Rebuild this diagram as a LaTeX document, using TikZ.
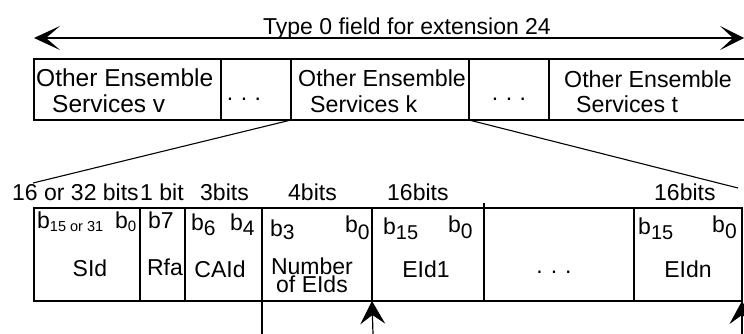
\documentclass[tikz,border=0pt]{standalone}
\usepackage{fontspec}
\setmainfont{Liberation Sans}
\usetikzlibrary{arrows.meta}
\newcommand{\bsub}[3][19]{\raisebox{-#2pt}{\fontsize{#1}{#1}\selectfont #3}}
\begin{document}
\begin{tikzpicture}[x=1pt, y=-1pt,
  font=\fontsize{23}{26}\selectfont,
  cell/.style={draw, line width=2.2pt, inner sep=0pt, outer sep=0pt, anchor=north west},
  txt/.style={inner sep=0pt, anchor=base west},
  ctxt/.style={inner sep=0pt, anchor=base},
  big/.style={font=\fontsize{24.5}{28}\selectfont},
  mid/.style={font=\fontsize{23.2}{28}\selectfont},
  thinline/.style={line width=1.1pt},
  thickline/.style={line width=2.2pt},
  uparrow/.style={line width=1.2pt, -{Stealth[length=23pt, width=25pt, inset=9pt]}},
  toparrow/.style={line width=2pt, {Stealth[length=26pt, width=24pt, inset=14pt]}-{Stealth[length=24pt, width=24pt, inset=13pt]}}]
\useasboundingbox (0,0) rectangle (744,334);

% top arrow
\coordinate (tl) at (34,38);
\coordinate (tr) at (744,38);
\draw[toparrow] (tl) -- (tr);
\node[ctxt] (title) at (407,35) {Type 0 field for extension 24};

% top cells
\node[cell, minimum width=187pt, minimum height=61pt] (v) at (34,59) {};
\node[cell, minimum width=70pt, minimum height=61pt] (d1) at (221,59) {};
\node[cell, minimum width=178pt, minimum height=61pt] (k) at (291,59) {};
\node[cell, minimum width=80pt, minimum height=61pt] (d2) at (469,59) {};
\node[cell, minimum width=199pt, minimum height=61pt] (t) at (549,59) {};

\node[txt, big] (v1) at (36,87) {Other Ensemble};
\node[txt, big] (v2) at (52,113) {Services v};
\node[txt, mid] (k1) at (298,87) {Other Ensemble};
\node[txt, mid] (k2) at (310,113) {Services k};
\node[txt, mid] (t1) at (564,88) {Other Ensemble};
\node[txt, mid] (t2) at (576,113) {Services t};
\node[ctxt] (dots1) at (244,101) {.\hspace{7.5pt}.\hspace{7.5pt}.};
\node[ctxt] (dots2) at (509,101) {.\hspace{7.5pt}.\hspace{7.5pt}.};

% expansion lines
\coordinate (c1) at (33,183);
\coordinate (c2) at (738,188);
\draw[thinline] (k.south west) -- (c1);
\draw[thinline] (k.south east) -- (c2);

% bit widths
\node[txt] (w1) at (12,200) {16 or 32 bits};
\node[txt] (w2) at (140,200) {1 bit};
\node[txt] (w3) at (200,200) {3bits};
\node[txt] (w4) at (288,200) {4bits};
\node[txt] (w5) at (387,200) {16bits};
\node[txt] (w6) at (654,200) {16bits};

% lower cells
\node[cell, minimum width=106pt, minimum height=93pt] (sid) at (34,208) {};
\node[cell, minimum width=45pt, minimum height=93pt] (rfa) at (140,208) {};
\node[cell, minimum width=77pt, minimum height=93pt] (caid) at (185,208) {};
\node[cell, minimum width=110pt, minimum height=93pt] (num) at (262,208) {};
\node[cell, minimum width=112pt, minimum height=93pt] (e1) at (372,208) {};
\node[cell, minimum width=150pt, minimum height=93pt] (ed) at (484,208) {};
\node[cell, minimum width=108pt, minimum height=93pt] (en) at (634,208) {};

% bit labels
\node[txt] (sb1) at (37,228) {b\bsub[14.5]{3}{15 or 31}};
\node[txt] (sb2) at (115,228) {b\bsub[15]{3}{0}};
\node[txt] (rb) at (148,228) {b7};
\node[txt] (cb1) at (191,230) {b\bsub[21]{5}{6}};
\node[txt] (cb2) at (230,230) {b\bsub[21]{5}{4}};
\node[txt] (nb1) at (270,236) {b\bsub[21]{3}{3}};
\node[txt] (nb2) at (345,232) {b\bsub[21]{7}{0}};
\node[txt] (eb1) at (383,234) {b\bsub[20]{5}{15}};
\node[txt] (eb2) at (448,232) {b\bsub[21]{6}{0}};
\node[txt] (fb1) at (638,234) {b\bsub[20]{5}{15}};
\node[txt] (fb2) at (712,232) {b\bsub[21]{6}{0}};

% field names
\node[ctxt] (sidt) at (90,276) {SId};
\node[ctxt] (rfat) at (165,275) {Rfa};
\node[ctxt] (caidt) at (220,277) {CAId};
\node[inner sep=0pt, anchor=north, align=center, font=\fontsize{23}{18}\selectfont] (numt) at (312,257.5) {Number\\of EIds};
\node[ctxt] (e1t) at (426,277) {EId1};
\node[ctxt] (edt) at (554,273) {.\hspace{8pt}.\hspace{8pt}.};
\node[ctxt] (ent) at (688,277) {EIdn};

% lines and arrows below
\coordinate (vl) at (262,334);
\draw[thickline] (num.south west) -- (vl);
\draw[thickline] (ed.north west) -- ++(0,-5);
\coordinate (a1) at (373,334);
\coordinate (a2) at (742,334);
\draw[uparrow] (a1) -- (e1.south west);
\draw[uparrow] (a2) -- (en.south east);
\end{tikzpicture}
\end{document}
